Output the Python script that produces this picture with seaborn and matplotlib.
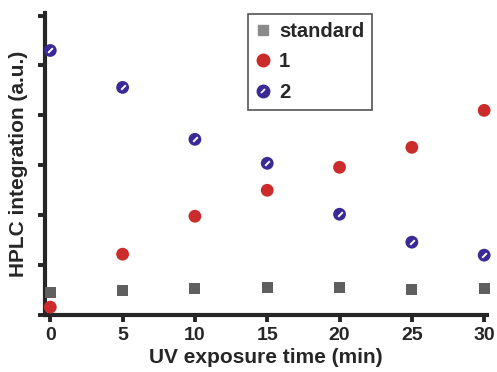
import numpy as np
import pandas as pd
import matplotlib
matplotlib.use('Agg')
import matplotlib.pyplot as plt
import seaborn as sns
from matplotlib.markers import MarkerStyle
from matplotlib.transforms import Affine2D
from matplotlib.lines import Line2D

# data
time_min = [0, 5, 10, 15, 20, 25, 30]
standard = [0.46, 0.50, 0.53, 0.56, 0.56, 0.51, 0.54]
cmpd_1 = [0.16, 1.22, 1.98, 2.50, 2.96, 3.36, 4.10]
cmpd_2 = [5.30, 4.56, 3.52, 3.04, 2.02, 1.46, 1.20]
x_ticks = [0, 5, 10, 15, 20, 25, 30]

sns.set_style('ticks')
plt.rcParams['font.family'] = ['Liberation Sans', 'DejaVu Sans']
plt.rcParams['font.weight'] = 'bold'

fig = plt.figure(figsize=(4.97, 3.72), dpi=100)
ax = fig.add_axes([0.091, 0.153, 0.889, 0.812])

gray = '#5f5f5f'
red = '#cc2b2b'
blue = '#3b2a96'

sns.scatterplot(x=time_min, y=standard, ax=ax, marker='s', s=62, color=gray,
                edgecolor='none', zorder=3, clip_on=False)
sns.scatterplot(x=time_min, y=cmpd_1, ax=ax, marker='o', s=85, color=red,
                edgecolor='none', zorder=3, clip_on=False)
sns.scatterplot(x=time_min, y=cmpd_2, ax=ax, marker='o', s=85, color=blue,
                edgecolor='none', zorder=3, clip_on=False)
slash = MarkerStyle('|', transform=Affine2D().rotate_deg(-45))
ax.scatter(time_min, cmpd_2, marker=slash, s=22, color='white', linewidths=1.4,
           zorder=4, clip_on=False)

ax.set_xlim(-0.35, 30.2)
ax.set_ylim(0, 6.05)
ax.set_xticks(x_ticks)
ax.set_yticks(np.arange(0, 7, 1))
ax.set_yticklabels([])
ax.tick_params(axis='both', width=2.8, length=5, labelsize=14, pad=3.5)
for lab in ax.get_xticklabels():
    lab.set_fontweight('bold')
for sp in ['left', 'bottom']:
    ax.spines[sp].set_linewidth(3)
sns.despine(ax=ax)

ax.set_xlabel('UV exposure time (min)', fontsize=15, fontweight='bold', labelpad=3)
ax.set_ylabel('HPLC integration (a.u.)', fontsize=15, fontweight='bold', labelpad=4)

h_std = Line2D([], [], marker='s', color='#8a8a8a', linestyle='none', markersize=7)
h_1 = Line2D([], [], marker='o', color=red, linestyle='none', markersize=9)
h_2a = Line2D([], [], marker='o', color=blue, linestyle='none', markersize=9)
h_2b = Line2D([], [], marker=slash, color='white', linestyle='none', markersize=5,
              markeredgewidth=1.3)
leg = ax.legend([h_std, h_1, (h_2a, h_2b)], ['standard', '1', '2'],
                loc='upper left', bbox_to_anchor=(0.458, 0.998),
                prop={'weight': 'bold', 'size': 14.5}, handlelength=0.7,
                handletextpad=0.45, labelspacing=0.58, borderpad=0.4,
                borderaxespad=0, fancybox=False, framealpha=1)
leg.get_frame().set_edgecolor('#555555')
leg.get_frame().set_linewidth(1.2)

plt.savefig('out.png', dpi=100)
